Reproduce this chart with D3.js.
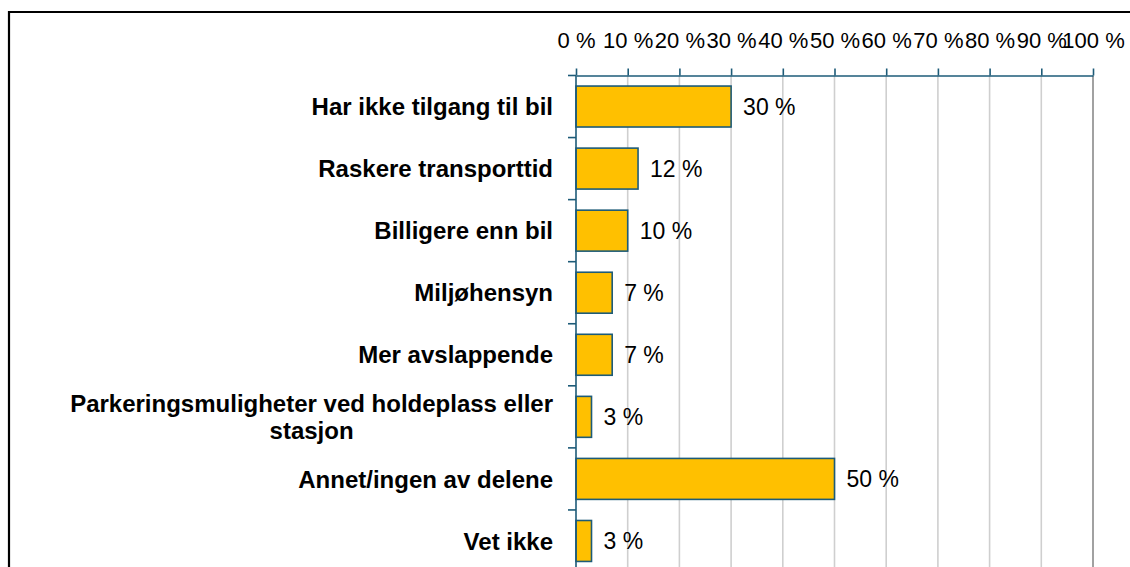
<!DOCTYPE html>
<html>
<head>
<meta charset="utf-8">
<script src="https://cdn.jsdelivr.net/npm/d3@7"></script>
<style>
  html, body { margin: 0; padding: 0; background: #fff; }
  svg { display: block; font-family: "Liberation Sans", Arial, sans-serif; }
</style>
</head>
<body>
<div id="chart"></div>
<script>
// data
const categories = [
  'Har ikke tilgang til bil',
  'Raskere transporttid',
  'Billigere enn bil',
  'Miljøhensyn',
  'Mer avslappende',
  'Parkeringsmuligheter ved holdeplass eller|stasjon',
  'Annet/ingen av delene',
  'Vet ikke'
];
const values = [30, 12, 10, 7, 7, 3, 50, 3];
const tickValues = [0, 10, 20, 30, 40, 50, 60, 70, 80, 90, 100];

const W = 1130, H = 567;
const margin = {top: 75.5, left: 576, right: 37};
const axisColor = '#1d5b78';

const svg = d3.select('#chart').append('svg')
  .attr('width', W).attr('height', H);

// cropped frame (top and left edges visible)
svg.append('path')
  .attr('d', `M9,${H + 5} L9,12 L${W + 5},12`)
  .attr('fill', 'none').attr('stroke', '#000').attr('stroke-width', 2.2);

const x = d3.scaleLinear().domain([0, 100]).range([576, 1093]);
// category bands (boundaries), the chart continues below the picture
const yBand = d3.scaleBand().domain(categories).range([margin.top, 572]);
const barH = yBand.step() * 0.66;

// gridlines
svg.append('g').selectAll('line')
  .data(tickValues.filter(d => d > 0))
  .join('line')
  .attr('x1', d => x(d)).attr('x2', d => x(d))
  .attr('y1', margin.top).attr('y2', H + 5)
  .attr('stroke', d => d === 100 ? '#8a8a8a' : '#cfcfcf')
  .attr('stroke-width', 1.6);

// top axis
const xAxis = d3.axisTop(x)
  .tickValues(tickValues)
  .tickSize(7)
  .tickSizeOuter(0)
  .tickPadding(20.5)
  .tickFormat(d => d + ' %');
const gx = svg.append('g')
  .attr('transform', `translate(0,${margin.top})`)
  .call(xAxis);
gx.select('.domain').attr('stroke', axisColor).attr('stroke-width', 1.6);
gx.selectAll('.tick line').attr('stroke', axisColor).attr('stroke-width', 1.6);
gx.selectAll('.tick text')
  .attr('fill', '#000')
  .style('font-size', '22px')
  .style('font-family', '"Liberation Sans", Arial, sans-serif');

// bars
svg.append('g').selectAll('rect')
  .data(values)
  .join('rect')
  .attr('x', x(0))
  .attr('y', (d, i) => yBand(categories[i]) + (yBand.step() - barH) / 2)
  .attr('width', d => x(d) - x(0))
  .attr('height', barH)
  .attr('fill', '#ffc000')
  .attr('stroke', axisColor)
  .attr('stroke-width', 1.6);

// left axis line and ticks at the category boundaries
const gy = svg.append('g');
gy.append('line')
  .attr('x1', x(0)).attr('x2', x(0))
  .attr('y1', margin.top).attr('y2', H + 5)
  .attr('stroke', axisColor).attr('stroke-width', 1.6);
gy.selectAll('.ytick')
  .data(categories)
  .join('line')
  .attr('class', 'ytick')
  .attr('x1', x(0) - 8).attr('x2', x(0))
  .attr('y1', d => yBand(d)).attr('y2', d => yBand(d))
  .attr('stroke', axisColor).attr('stroke-width', 1.6);

// value labels
svg.append('g').selectAll('text')
  .data(values)
  .join('text')
  .attr('x', d => x(d) + 12)
  .attr('y', (d, i) => yBand(categories[i]) + yBand.step() / 2)
  .attr('dy', '0.36em')
  .style('font-size', '23px')
  .attr('fill', '#000')
  .text(d => d + ' %');

// category labels (bold, right aligned; wrapped lines centred on the first)
const labelRight = 553;
categories.forEach((c, i) => {
  const lines = c.split('|');
  const cy = yBand(c) + yBand.step() / 2;
  const lh = 27;
  const t = svg.append('text')
    .style('font-size', '24px')
    .style('font-weight', 'bold')
    .attr('fill', '#000');
  if (lines.length === 1) {
    t.attr('x', labelRight).attr('y', cy).attr('dy', '0.36em')
      .attr('text-anchor', 'end').text(c);
  } else {
    const first = t.append('tspan').text(lines[0]);
    const w = first.node().getComputedTextLength();
    const mid = labelRight - w / 2;
    t.attr('text-anchor', 'middle');
    lines.forEach((ln, k) => {
      const sp = k === 0 ? first : t.append('tspan').text(ln);
      sp.attr('x', mid)
        .attr('y', cy + (k - (lines.length - 1) / 2) * lh)
        .attr('dy', '0.36em');
    });
  }
});
</script>
</body>
</html>
